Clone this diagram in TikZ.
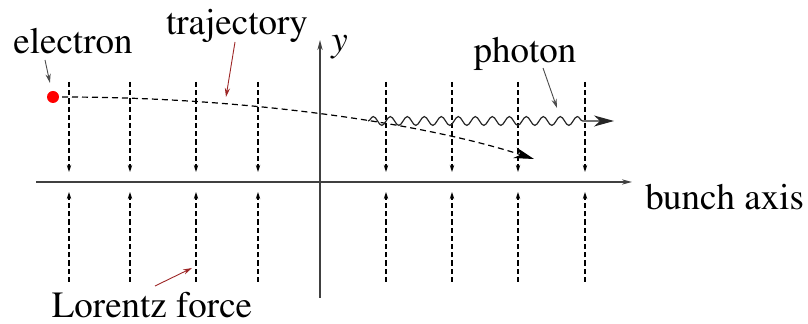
\documentclass[tikz,border=0pt]{standalone}
\usepackage[T1]{fontenc}
\usepackage{mathptmx}
\usetikzlibrary{arrows.meta, decorations.pathmorphing}

\begin{document}
\begin{tikzpicture}[
		x=0.5pt, y=-0.5pt,
		lbl/.style={font=\fontsize{18.5}{20}\selectfont, inner sep=0pt},
		axis/.style={line width=1pt, draw=black!75, -{Stealth[length=5pt,width=2.6pt]}},
		field/.style={line width=0.7pt, dash pattern=on 2.6pt off 1.5pt, -{Stealth[length=3.5pt,width=2.2pt]}},
		pointer/.style={line width=0.45pt, draw=black!70, -{Stealth[length=4.5pt,width=2.6pt]}},
		redpointer/.style={pointer, draw=red!55!black!85},
		bigarrow/.style={line width=0.6pt, -{Stealth[length=10pt,width=5.5pt,inset=3pt]}}
		]
		\useasboundingbox (0,0) rectangle (808,324);
		
		% axes
		\coordinate (xstart) at (36,182);
		\coordinate (xend) at (632,182);
		\coordinate (ystart) at (320,298);
		\coordinate (yend) at (320,40);
		\draw[axis] (xstart) -- (xend);
		\draw[axis] (ystart) -- (yend);
		\node[lbl, anchor=base west] (bunch) at (645,210) {bunch axis};
		\node[lbl, anchor=base west] (ylbl) at (331,52) {$y$};
		
		% Lorentz force lines
		\foreach \x in {69,130,196,258,386,452,518,585} {
			\draw[field] (\x,82) -- (\x,172);
			\draw[field] (\x,282) -- (\x,192);
		}
		
		% electron and trajectory
		\node[circle, fill=red, inner sep=0pt, minimum size=6pt] (el) at (53,97) {};
		\coordinate (tstart) at (62,97);
		\coordinate (tend) at (534,159);
		\draw[bigarrow, dash pattern=on 3pt off 2pt] (tstart) .. controls (240,97) and (420,122) .. (tend);
		
		% photon
		\coordinate (pstart) at (368,121);
		\coordinate (pend) at (614,121);
		\draw[bigarrow, draw=black!85, decorate, decoration={snake, amplitude=2.2pt, segment length=8.5pt, post length=14pt}] (pstart) -- (pend);
		
		% labels
		\node[lbl, anchor=base] (elbl) at (73,54) {electron};
		\node[lbl, anchor=base] (tlbl) at (237,35) {trajectory};
		\node[lbl, anchor=base] (plbl) at (525,63) {photon};
		\node[lbl, anchor=base] (llbl) at (152,318) {Lorentz force};
		
		% pointers
		\coordinate (elptr) at (45,60);
		\coordinate (tptr0) at (235,42);
		\coordinate (tptr) at (226,97);
		\coordinate (pptr0) at (543,68);
		\coordinate (pptr) at (557,108);
		\coordinate (lptr0) at (155,286);
		\coordinate (lptr) at (192,268);
		\draw[pointer, shorten >=4pt] (elptr) -- (el);
		\draw[redpointer] (tptr0) -- (tptr);
		\draw[pointer] (pptr0) -- (pptr);
		\draw[redpointer] (lptr0) -- (lptr);
		
	\end{tikzpicture}
\end{document}
